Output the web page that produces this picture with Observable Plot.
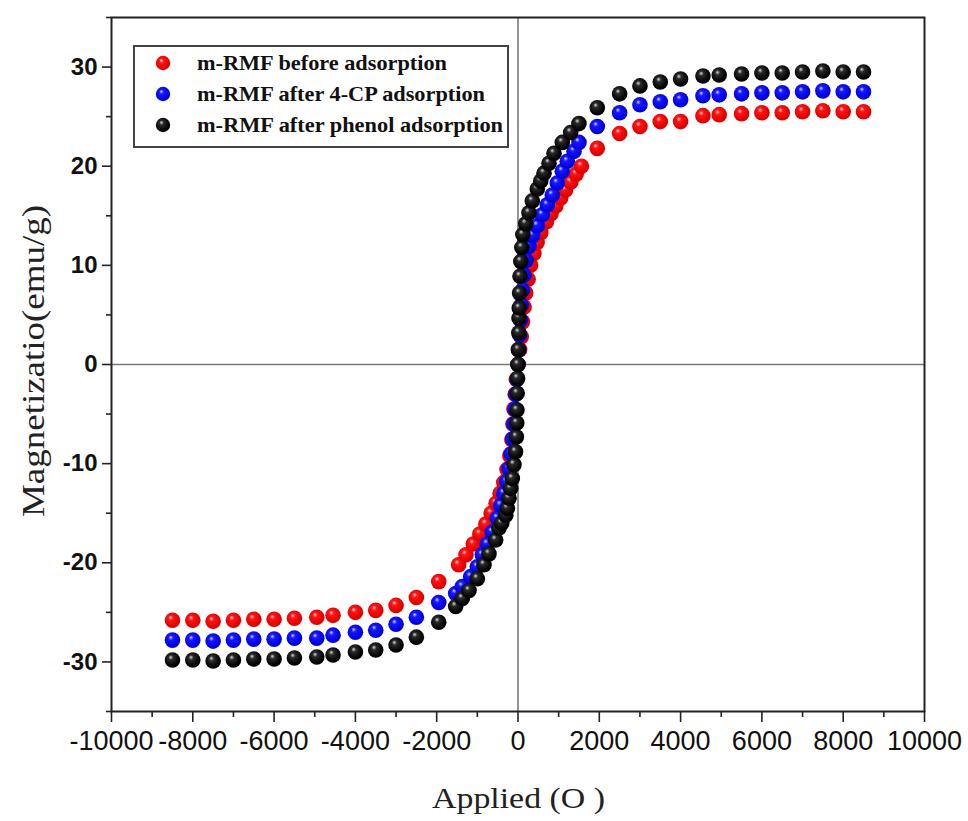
<!DOCTYPE html>
<html><head><meta charset="utf-8">
<script src="https://cdn.jsdelivr.net/npm/d3@7"></script>
<script src="https://cdn.jsdelivr.net/npm/@observablehq/plot@0.6"></script>
<style>
html,body{margin:0;padding:0;background:#fff;}
</style></head><body><div id="chart"></div>
<script>
// ---- data (H in Oe, M in emu/g) ----
const seriesNames = ["m-RMF before adsorption", "m-RMF after 4-CP adsorption", "m-RMF after phenol adsorption"];

const redH = [-8500,-8000,-7500,-7000,-6500,-6000,-5500,-4950,-4550,-4000,-3500,-3000,-2500,-1950,
  -1460,-1280,-1100,-940,-790,-660,-540,-440,-350,-270,-200,-150,-125,-100,-70,-40,0,
  40,80,110,150,190,250,310,390,470,560,700,810,930,1050,1170,1300,1430,1560,
  1950,2500,3000,3500,4000,4550,4950,5500,6000,6500,7000,7500,8000,8500];
const redM = [-25.8,-25.8,-25.9,-25.8,-25.7,-25.7,-25.6,-25.5,-25.3,-25.0,-24.8,-24.3,-23.5,-21.9,
  -20.2,-19.2,-18.1,-17.1,-16.1,-15.0,-14.0,-13.0,-11.9,-10.6,-9.2,-7.6,-6.0,-4.5,-3.0,-1.5,0,
  1.5,2.8,4.3,5.8,7.2,8.6,10.0,11.2,12.3,13.3,14.4,15.2,16.0,16.8,17.6,18.4,19.2,20.0,
  21.8,23.3,24.0,24.5,24.5,25.1,25.2,25.3,25.4,25.4,25.5,25.6,25.5,25.5];

const blueH = [-8500,-8000,-7500,-7000,-6500,-6000,-5500,-4950,-4550,-4000,-3500,-3000,-2500,-1950,
  -1533,-1370,-1164,-1001,-878,-755,-632,-509,-426,-350,-280,-220,-170,-130,-100,-75,-50,-25,0,
  20,40,60,80,110,150,200,270,360,475,598,721,844,967,1090,1213,1378,1500,
  1950,2500,3000,3500,4000,4550,4950,5500,6000,6500,7000,7500,8000,8500];
const blueM = [-27.8,-27.8,-27.9,-27.8,-27.7,-27.7,-27.6,-27.6,-27.3,-27.0,-26.8,-26.2,-25.5,-24.0,
  -23.1,-22.4,-21.4,-20.4,-19.2,-18.1,-16.9,-15.5,-14.2,-13.0,-11.8,-10.5,-9.0,-7.5,-6.0,-4.5,-3.0,-1.5,0,
  1.5,3.0,4.5,6.0,7.5,9.0,10.5,11.9,13.0,14.0,15.1,16.1,17.1,18.3,19.5,20.5,21.5,22.4,
  24.0,25.4,26.2,26.5,26.7,27.1,27.2,27.3,27.4,27.4,27.5,27.6,27.5,27.5];

const blackH = [-8500,-8000,-7500,-7000,-6500,-6000,-5500,-4950,-4550,-4000,-3500,-3000,-2500,-1950,
  -1533,-1370,-1205,-1001,-836,-713,-549,-467,-400,-300,-260,-220,-180,-140,-100,-60,-40,-30,-25,-20,-10,0,
  10,20,25,30,40,50,70,95,120,190,270,352,475,560,640,763,886,1090,1296,1500,
  1950,2500,3000,3500,4000,4550,4950,5500,6000,6500,7000,7500,8000,8500];
const blackM = [-29.8,-29.8,-29.9,-29.8,-29.7,-29.7,-29.6,-29.5,-29.3,-29.0,-28.8,-28.3,-27.5,-26.0,
  -24.4,-23.6,-22.8,-21.6,-20.2,-19.1,-17.7,-16.5,-16.0,-15.2,-14.5,-13.5,-12.5,-11.5,-10.1,-8.8,-7.3,-5.9,-4.6,-2.9,-1.4,0,
  1.5,3.2,4.7,5.7,7.2,8.9,10.4,11.8,13.1,14.2,15.3,16.5,17.7,18.5,19.3,20.3,21.3,22.4,23.4,24.3,
  25.9,27.3,28.1,28.5,28.8,29.1,29.2,29.3,29.4,29.4,29.5,29.6,29.5,29.5];

const xMajorTicks = [-10000,-8000,-6000,-4000,-2000,0,2000,4000,6000,8000,10000];
const xMinorTicks = [-9000,-7000,-5000,-3000,-1000,1000,3000,5000,7000,9000];
const yMajorTicks = [-30,-20,-10,0,10,20,30];
const yMinorTicks = [-35,-25,-15,-5,5,15,25,35];
const xTitle = "Applied (O )";
const yTitle = "Magnetizatio(emu/g)";

// ---- build table ----
const toRows = (H, M, s) => H.map((h, i) => ({H: h, M: M[i], s}));
const red = toRows(redH, redM, seriesNames[0]);
const blue = toRows(blueH, blueM, seriesNames[1]);
const black = toRows(blackH, blackM, seriesNames[2]);

const gradIds = ["gRed", "gBlue", "gBlack"];
const serif = "'Liberation Serif', 'Times New Roman', serif";
const sans = "'Liberation Sans', Arial, sans-serif";

const chart = Plot.plot({
  width: 968,
  height: 821,
  marginLeft: 111,
  marginRight: 44,
  marginTop: 17,
  marginBottom: 110,
  style: {fontFamily: sans, color: "#111", background: "#fff", overflow: "visible"},
  x: {domain: [-10000, 10000]},
  y: {domain: [-35, 35]},
  marks: [
    Plot.ruleX([0], {stroke: "#7a7a7a", strokeWidth: 1.6}),
    Plot.ruleY([0], {stroke: "#7a7a7a", strokeWidth: 1.6}),
    Plot.dot(red, {x: "H", y: "M", r: 7.8, fill: "url(#gRed)", stroke: "none"}),
    Plot.dot(blue, {x: "H", y: "M", r: 7.8, fill: "url(#gBlue)", stroke: "none"}),
    Plot.dot(black, {x: "H", y: "M", r: 7.8, fill: "url(#gBlack)", stroke: "none"}),
    Plot.frame({stroke: "#222", strokeWidth: 2}),
    Plot.axisY({ticks: yMajorTicks, tickSize: 9, tickPadding: 5, fontSize: 24, fontWeight: "bold", fontFamily: sans, tickFormat: d => String(d), label: null, stroke: "#222", strokeWidth: 1.6}),
    Plot.axisY({ticks: yMinorTicks, tickSize: 5, fill: "none", label: null, stroke: "#222", strokeWidth: 1.6}),
    Plot.axisX({ticks: xMajorTicks, tickSize: 11, tickPadding: 8, fontSize: 27, fontFamily: sans, tickFormat: d => String(d), label: null, stroke: "#222", strokeWidth: 1.6}),
    Plot.axisX({ticks: xMinorTicks, tickSize: 6, fill: "none", label: null, stroke: "#222", strokeWidth: 1.6})
  ]
});

const svg = d3.select(chart.tagName.toLowerCase() === "svg" ? chart : chart.querySelector("svg"));
const defs = svg.insert("defs", ":first-child");
function sphere(id, hi, base, dark) {
  const g = defs.append("radialGradient").attr("id", id)
    .attr("cx", "45%").attr("cy", "42%").attr("r", "62%").attr("fx", "38%").attr("fy", "32%");
  g.append("stop").attr("offset", "0%").attr("stop-color", hi);
  g.append("stop").attr("offset", "25%").attr("stop-color", base);
  g.append("stop").attr("offset", "80%").attr("stop-color", dark);
  g.append("stop").attr("offset", "100%").attr("stop-color", dark);
}
sphere("gRed", "#ffd0d0", "#ff1515", "#e00000");
sphere("gBlue", "#d0d0ff", "#1818ff", "#0000dd");
sphere("gBlack", "#d8d8d8", "#2a2a2a", "#000000");

// axis titles (stretched to the reference lengths)
svg.append("text").attr("x", 432).attr("y", 808)
  .attr("text-anchor", "start").attr("font-family", serif).attr("font-size", 30).attr("fill", "#222")
  .attr("textLength", 173).attr("lengthAdjust", "spacingAndGlyphs").text(xTitle);
svg.append("text").attr("transform", "translate(44,517) rotate(-90)")
  .attr("text-anchor", "start").attr("font-family", serif).attr("font-size", 32).attr("fill", "#222")
  .attr("textLength", 312).attr("lengthAdjust", "spacingAndGlyphs").text(yTitle);

// legend
const lg = svg.append("g").attr("transform", "translate(134,46)");
lg.append("rect").attr("width", 374).attr("height", 101).attr("fill", "#fff").attr("stroke", "#444").attr("stroke-width", 2);
const legendLens = [250, 288, 306];
seriesNames.forEach((name, i) => {
  const yy = 17 + i * 31;
  lg.append("circle").attr("cx", 29).attr("cy", yy).attr("r", 7.2).attr("fill", `url(#${gradIds[i]})`);
  lg.append("text").attr("x", 63).attr("y", yy).attr("dy", "0.35em").attr("text-anchor", "start")
    .attr("font-family", serif).attr("font-weight", "bold").attr("font-size", 21).attr("fill", "#111")
    .attr("textLength", legendLens[i]).attr("lengthAdjust", "spacingAndGlyphs")
    .text(name);
});

document.getElementById("chart").appendChild(chart);
</script>
</body></html>
